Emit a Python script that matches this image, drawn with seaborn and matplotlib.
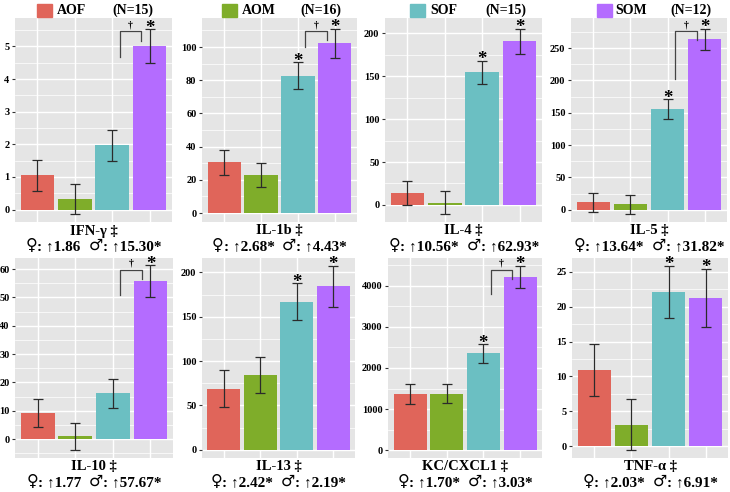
import numpy as np
import pandas as pd
import matplotlib
matplotlib.use("Agg")
import matplotlib.pyplot as plt
import seaborn as sns
from matplotlib.ticker import MultipleLocator, AutoMinorLocator
from matplotlib.patches import Rectangle

# groups and legend
groups = ["AOF", "AOM", "SOF", "SOM"]
group_n = ["(N=15)", "(N=16)", "(N=15)", "(N=12)"]
colors = ["#E0655A", "#7FAD2A", "#6BBFC2", "#B46CFF"]

# cytokine panels
titles = ["IFN-γ ‡", "IL-1b ‡", "IL-4 ‡", "IL-5 ‡",
          "IL-10 ‡", "IL-13 ‡", "KC/CXCL1 ‡", "TNF-α ‡"]
female_fc = ["↑1.86", "↑2.68*", "↑10.56*", "↑13.64*", "↑1.77", "↑2.42*", "↑1.70*", "↑2.03*"]
male_fc = ["↑15.30*", "↑4.43*", "↑62.93*", "↑31.82*", "↑57.67*", "↑2.19*", "↑3.03*", "↑6.91*"]

ifn_mean = [1.05, 0.32, 1.97, 5.01]
ifn_sem = [0.47, 0.46, 0.47, 0.52]
il1b_mean = [30.6, 22.9, 82.8, 102.3]
il1b_sem = [7.6, 7.5, 8.0, 8.8]
il4_mean = [14.0, 2.7, 154.5, 190.6]
il4_sem = [13.8, 13.1, 13.5, 15.1]
il5_mean = [11.3, 8.3, 155.8, 263.5]
il5_sem = [14.8, 14.7, 14.8, 16.3]
il10_mean = [9.1, 0.9, 16.1, 55.7]
il10_sem = [5.0, 4.7, 5.0, 5.6]
il13_mean = [68.8, 84.0, 166.9, 184.2]
il13_sem = [21.0, 20.3, 21.0, 23.5]
kc_mean = [1379, 1379, 2353, 4211]
kc_sem = [243, 240, 223, 268]
tnf_mean = [10.9, 3.06, 22.1, 21.3]
tnf_sem = [3.75, 3.65, 3.77, 4.17]

means = [ifn_mean, il1b_mean, il4_mean, il5_mean, il10_mean, il13_mean, kc_mean, tnf_mean]
sems = [ifn_sem, il1b_sem, il4_sem, il5_sem, il10_sem, il13_sem, kc_sem, tnf_sem]
tick_steps = [1, 20, 50, 50, 10, 50, 1000, 5]
ylims = [(-0.38, 5.87), (-5.4, 117.5), (-20, 218), (-19, 296.6),
         (-6.7, 64.1), (-9.4, 216.9), (-187, 4682), (-1.72, 27.06)]

# significance: * vs control per group, † SOF vs SOM bracket (low, top)
stars = [[False, False, False, True], [False, False, True, True],
         [False, False, True, True], [False, False, True, True],
         [False, False, False, True], [False, False, True, True],
         [False, False, True, True], [False, False, True, True]]
brackets = {0: (4.69, 5.46), 1: (100, 109.5), 3: (202, 276),
            4: (51, 59.8), 6: (3789, 4381)}

W, H = 730, 492
fig = plt.figure(figsize=(W / 100, H / 100), dpi=100)
serif = ["Liberation Serif", "DejaVu Serif"]
renderer = fig.canvas.get_renderer()


def text_row(xc, y, parts):
    # draw pieces side by side, centred on xc (pixels)
    objs = []
    for s, fam, size in parts:
        objs.append(fig.text(0, 1 - y / H, s, ha="left", va="baseline", fontsize=size,
                             fontweight="bold" if fam == serif else "normal", family=fam))
    widths = [o.get_window_extent(renderer).width for o in objs]
    x = xc - sum(widths) / 2
    for o, w in zip(objs, widths):
        o.set_x(x / W)
        x += w


# axes boxes in pixels: left, top, right, bottom
boxes = [(15, 18, 172, 222), (202, 18, 357, 222), (385, 18, 542, 222), (571, 18, 727, 222),
         (15, 257.5, 173, 458), (202, 257.5, 355, 458), (388, 257.5, 542, 458), (572, 257.5, 728, 458)]

for k in range(8):
    l, t, r, b = boxes[k]
    ax = fig.add_axes([l / W, 1 - b / H, (r - l) / W, (b - t) / H])
    ax.set_facecolor("#E5E5E5")
    df = pd.DataFrame({"group": groups, "value": means[k]})
    sns.barplot(data=df, x="group", y="value", hue="group", palette=colors,
                width=0.9, legend=False, ax=ax, saturation=1, errorbar=None)
    ax.errorbar(range(4), means[k], yerr=sems[k], fmt="none", ecolor="#2b2b2b",
                elinewidth=0.9, capsize=3.6, capthick=0.9, zorder=5)
    ax.set_xlim(-0.6, 3.6)
    ax.set_ylim(*ylims[k])
    ax.yaxis.set_major_locator(MultipleLocator(tick_steps[k]))
    ax.yaxis.set_minor_locator(AutoMinorLocator(2))
    ax.set_axisbelow(True)
    ax.grid(which="major", color="white", lw=1.0)
    ax.grid(which="minor", axis="y", color="white", lw=0.5)
    for s in ax.spines.values():
        s.set_visible(False)
    ax.set_xlabel("")
    ax.set_ylabel("")
    ax.tick_params(axis="x", length=0, labelbottom=False)
    ax.tick_params(axis="y", which="major", length=2.5, width=0.8, color="#333333", pad=1.5)
    ax.tick_params(axis="y", which="minor", length=0)
    for lab in ax.get_yticklabels():
        lab.set_fontfamily(serif)
        lab.set_fontweight("bold")
        lab.set_fontsize(7.5)

    yr = ylims[k][1] - ylims[k][0]
    for i in range(4):
        if stars[k][i]:
            ax.annotate("*", xy=(i, means[k][i] + sems[k][i]), xytext=(0, -2.5),
                        textcoords="offset points", ha="center", va="baseline",
                        fontsize=13.5, fontweight="bold", family=serif, zorder=6)
    if k in brackets:
        lo, hi = brackets[k]
        xl, xr = 2.2, 2.78
        ax.plot([xl, xl, xr, xr], [lo, hi, hi, hi - 0.045 * yr],
                color="#444444", lw=0.9, zorder=6)
        ax.annotate("†", xy=((xl + xr) / 2, hi), xytext=(0, 1.5),
                    textcoords="offset points", ha="center", va="bottom",
                    fontsize=7, fontweight="bold", family=serif, zorder=6)

    xc = (l + r) / 2
    fig.text(xc / W, 1 - (b + 9) / H, titles[k], ha="center", va="center",
             fontsize=10.5, fontweight="bold", family=serif)
    sym = ["DejaVu Sans"]
    text_row(xc, b + 28, [("♀", sym, 11.5), (": " + female_fc[k] + "  ", serif, 11),
                          ("♂", sym, 11.5), (": " + male_fc[k], serif, 11)])

# legend row across the top
sq_x = [37, 222, 410, 597]
lab_x = [57, 242, 430, 615]
n_x = [112, 300, 485, 670]
for i in range(4):
    fig.patches.append(Rectangle((sq_x[i] / W, 1 - 17 / H), 15 / W, 13 / H,
                                 transform=fig.transFigure, color=colors[i]))
    fig.text(lab_x[i] / W, 1 - 10.5 / H, groups[i], ha="left", va="center",
             fontsize=10, fontweight="bold", family=serif)
    fig.text(n_x[i] / W, 1 - 10.5 / H, group_n[i], ha="left", va="center",
             fontsize=10, fontweight="bold", family=serif)

fig.savefig("out.png", dpi=100)
